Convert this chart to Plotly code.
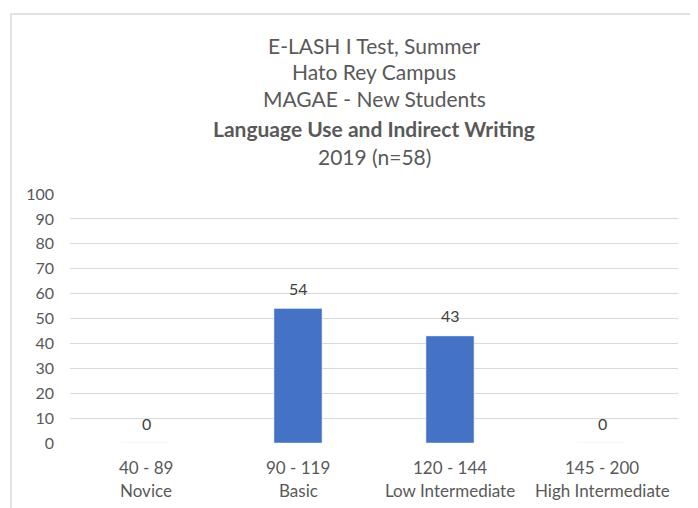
import plotly.graph_objects as go

ranges = ["40 - 89", "90 - 119", "120 - 144", "145 - 200"]
levels = ["Novice", "Basic", "Low Intermediate", "High Intermediate"]
values = [0, 54, 43, 0]
title_lines = ["E-LASH I Test, Summer", "Hato Rey Campus", "MAGAE - New Students",
               "<b>Language Use and Indirect Writing</b>", "2019 (n=58)"]
y_ticks = list(range(0, 101, 10))

FONT = "Lato"
GREY = "#595959"
OFF = 8  # page body margin
W, H = 698 - OFF, 508 - OFF
L, R, T, B = 70 - OFF, 20, 194 - OFF, 65
ph = H - T - B
pw = W - L - R

def py(pix):
    return (H - B - (pix - OFF)) / ph

def px(pix):
    return ((pix - OFF) - L) / pw

fig = go.Figure()
fig.add_trace(go.Bar(x=ranges, y=values, marker_color="#4472C4", width=0.316,
                     hoverinfo="skip"))

ann = []
title_y = [45, 71, 99, 128, 156]
for t, yy in zip(title_lines, title_y):
    ann.append(dict(text=t, x=0.5, xref="paper", y=py(yy), yref="paper",
                    xanchor="center", yanchor="middle", showarrow=False,
                    font=dict(family=FONT, size=21, color=GREY)))
for r, lv, v in zip(ranges, levels, values):
    ann.append(dict(text=str(v), x=r, xref="x", y=v, yref="y", xanchor="center",
                    yanchor="middle", yshift=20, showarrow=False,
                    font=dict(family=FONT, size=16, color="#404040")))
    ann.append(dict(text=r, x=r, xref="x", y=py(467), yref="paper", xanchor="center",
                    yanchor="middle", showarrow=False,
                    font=dict(family=FONT, size=17, color=GREY)))
    ann.append(dict(text=lv, x=r, xref="x", y=py(490), yref="paper", xanchor="center",
                    yanchor="middle", showarrow=False,
                    font=dict(family=FONT, size=17, color=GREY)))

fig.update_layout(
    width=W, height=H, margin=dict(l=L, r=R, t=T, b=B, autoexpand=False),
    paper_bgcolor="white", plot_bgcolor="white", showlegend=False,
    annotations=ann,
    xaxis=dict(showticklabels=False, showgrid=False, zeroline=False, showline=False,
               ticks=""),
    yaxis=dict(range=[0, 100], tickvals=y_ticks, showgrid=True, gridcolor="#D9D9D9",
               gridwidth=1, zeroline=False, showline=False, ticks="",
               ticklabelstandoff=15,
               tickfont=dict(family=FONT, size=16, color=GREY)),
    shapes=[dict(type="rect", xref="paper", yref="paper", x0=px(11), x1=px(710),
                 y0=py(520), y1=py(14), line=dict(color="#D9D9D9", width=1.5),
                 fillcolor="rgba(0,0,0,0)", layer="below")],
)
fig.write_html("out.html")
